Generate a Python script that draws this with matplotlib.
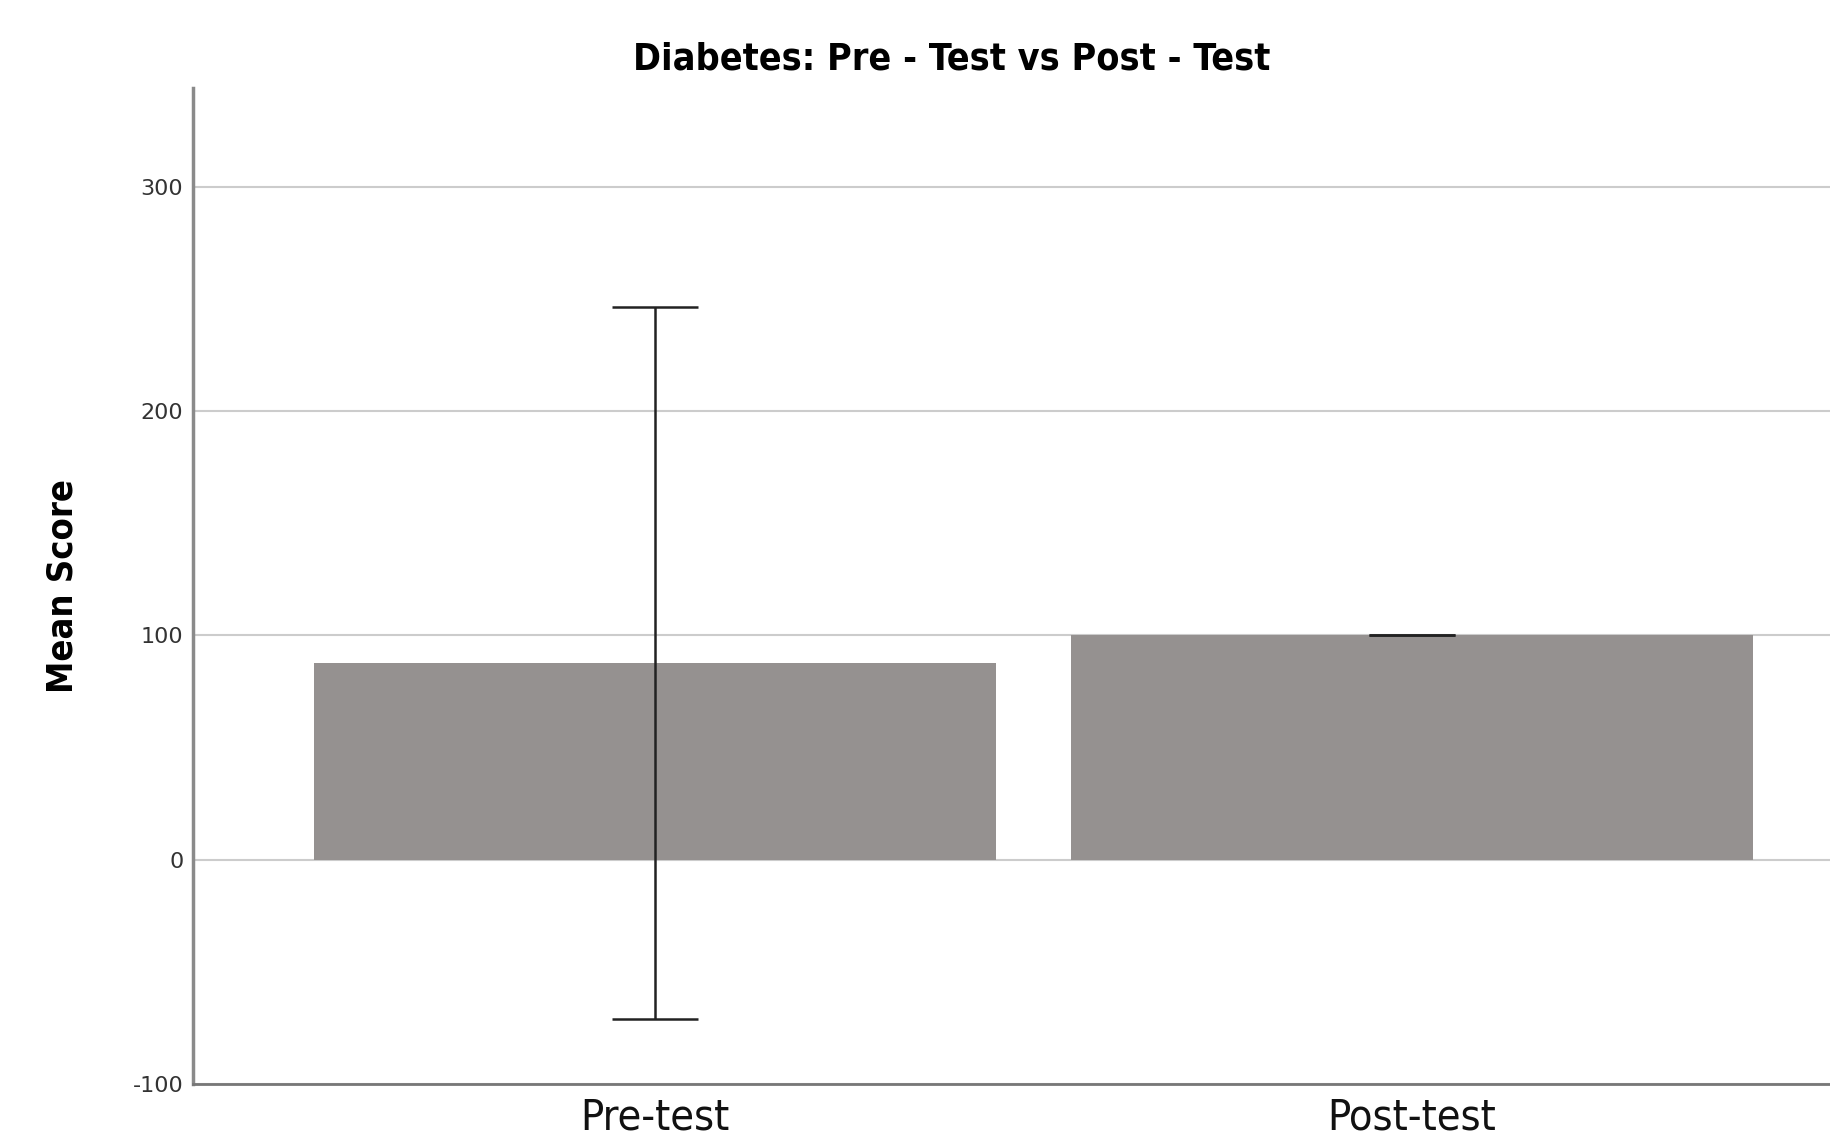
import matplotlib.pyplot as plt
import numpy as np

# data
groups = ['Pre-test', 'Post-test']
means = [87.5, 100.0]
ci_low = [-71.0, 100.0]
ci_high = [246.5, 100.0]
y_ticks = [-100, 0, 100, 200, 300]

fig = plt.figure(figsize=(18.3, 11.4), dpi=100)
ax = fig.add_axes([0.1055, 0.049, 0.8945, 0.874])

x = np.arange(len(groups))
means_arr = np.array(means)
yerr = np.vstack([means_arr - np.array(ci_low), np.array(ci_high) - means_arr])

ax.bar(x, means, width=0.9, color='#959190', zorder=2)
ax.errorbar(x, means, yerr=yerr, fmt='none', ecolor='#222222', elinewidth=1.8,
            capsize=31, capthick=1.8, zorder=3)

ax.set_xlim(-0.61, 1.552)
ax.set_ylim(-100, 344)
ax.set_yticks(y_ticks)
ax.set_yticklabels([str(t) for t in y_ticks], fontsize=16, color='#333333',
                   fontstretch='expanded')
ax.set_xticks(x)
ax.set_xticklabels(groups, fontsize=31, fontstretch='condensed', color='#111111')
ax.tick_params(axis='both', length=0)
ax.tick_params(axis='y', pad=7)
ax.tick_params(axis='x', pad=9)

ax.yaxis.grid(True, color='#cccccc', linewidth=1.5, zorder=0)
ax.set_axisbelow(True)
for s in ['top', 'right']:
    ax.spines[s].set_visible(False)
ax.spines['left'].set_color('#8a8a8a')
ax.spines['left'].set_linewidth(2.5)
ax.spines['bottom'].set_color('#777777')
ax.spines['bottom'].set_linewidth(2)

ax.set_ylabel('Mean Score', fontsize=26, fontweight='bold', fontstretch='condensed',
              labelpad=38)

fig.text(0.52, 0.948, 'Diabetes: Pre - Test vs Post - Test', ha='center', va='center',
         fontsize=27, fontweight='bold', fontstretch='condensed')

fig.savefig('out.png', dpi=100)
